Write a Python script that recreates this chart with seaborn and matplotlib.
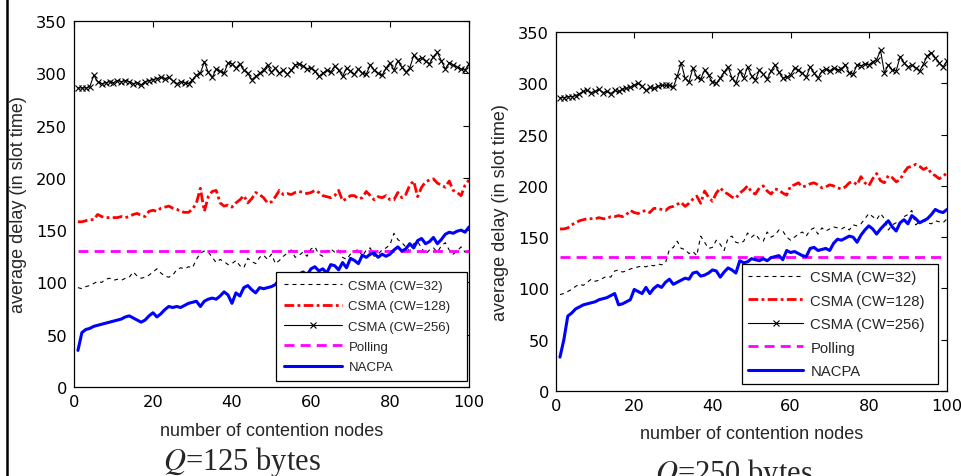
import numpy as np
import matplotlib
matplotlib.use("Agg")
import matplotlib.pyplot as plt
import seaborn as sns

# x axis: number of contention nodes
nodes = list(range(1, 101))

# Q = 125 bytes
q125_cw32 = [95, 94, 96, 97, 99, 101, 100, 103, 104, 102,
             103, 102, 104, 105, 110, 106, 104, 105, 107, 110,
             113, 109, 106, 105, 107, 112, 114, 113, 115, 114,
             122, 128, 130, 129, 124, 119, 122, 120, 117, 118,
             121, 116, 114, 123, 120, 118, 124, 126, 122, 127,
             118, 121, 125, 128, 131, 124, 126, 129, 125, 132,
             134, 127, 125, 130, 132, 129, 131, 124, 122, 127,
             129, 132, 125, 131, 133, 125, 127, 131, 133, 136,
             147, 141, 138, 134, 130, 137, 139, 133, 127, 131,
             133, 129, 135, 138, 131, 127, 130, 134, 129, 128]
q125_cw128 = [158, 158, 159, 160, 160, 165, 163, 162, 162, 162,
              162, 163, 162, 163, 165, 166, 164, 163, 168, 169,
              168, 171, 172, 173, 171, 170, 168, 167, 167, 170,
              176, 190, 168, 182, 187, 188, 176, 173, 174, 172,
              176, 179, 183, 176, 180, 186, 184, 181, 176, 177,
              182, 188, 184, 185, 184, 186, 187, 186, 185, 186,
              188, 186, 183, 182, 181, 183, 188, 178, 180, 183,
              183, 180, 181, 187, 183, 179, 182, 181, 183, 179,
              179, 186, 181, 184, 193, 197, 182, 191, 196, 198,
              199, 195, 193, 191, 197, 188, 186, 183, 193, 198]
q125_cw256 = [286, 286, 286, 287, 298, 292, 290, 291, 292, 291,
              293, 292, 293, 292, 290, 291, 289, 292, 293, 294,
              295, 296, 295, 296, 293, 290, 292, 291, 290, 294,
              298, 300, 311, 301, 296, 304, 302, 300, 310, 309,
              305, 309, 303, 300, 294, 297, 300, 303, 308, 301,
              305, 300, 303, 299, 303, 308, 309, 307, 304, 305,
              302, 297, 300, 303, 301, 307, 303, 297, 305, 302,
              299, 304, 300, 299, 308, 303, 300, 298, 305, 310,
              303, 312, 306, 301, 305, 317, 313, 315, 312, 309,
              316, 320, 312, 304, 310, 308, 306, 304, 303, 309]
q125_polling = 130
q125_nacpa = [35, 52, 55, 56, 58, 59, 60, 61, 62, 63,
              64, 65, 67, 68, 66, 64, 62, 64, 68, 71,
              67, 70, 74, 77, 76, 77, 76, 78, 80, 81,
              82, 77, 82, 84, 85, 84, 87, 91, 88, 80,
              90, 87, 95, 97, 93, 90, 95, 94, 95, 96,
              98, 103, 100, 102, 105, 104, 108, 110, 107, 113,
              115, 111, 113, 109, 117, 116, 112, 119, 114, 123,
              121, 118, 126, 124, 127, 128, 124, 127, 125, 127,
              131, 134, 130, 132, 137, 133, 140, 142, 137, 139,
              143, 137, 141, 146, 148, 147, 149, 150, 148, 153]

# Q = 250 bytes
q250_cw32 = [94, 95, 97, 99, 102, 104, 103, 106, 109, 107,
             108, 110, 112, 111, 117, 118, 116, 117, 119, 120,
             121, 122, 121, 123, 122, 124, 123, 125, 138, 140,
             146, 139, 138, 134, 136, 132, 151, 145, 139, 140,
             147, 143, 137, 149, 151, 145, 144, 146, 154, 150,
             153, 148, 146, 155, 150, 152, 157, 156, 150, 147,
             150, 153, 155, 151, 157, 159, 153, 159, 156, 158,
             160, 159, 158, 160, 157, 162, 161, 163, 168, 173,
             170, 167, 173, 168, 157, 162, 164, 163, 170, 172,
             176, 162, 165, 166, 164, 163, 166, 165, 164, 168]
q250_cw128 = [158, 158, 159, 162, 164, 166, 167, 168, 168, 168,
              169, 168, 168, 170, 170, 171, 170, 172, 176, 174,
              173, 175, 176, 174, 178, 178, 177, 176, 179, 180,
              182, 184, 180, 183, 187, 190, 183, 195, 189, 185,
              193, 198, 194, 192, 189, 188, 193, 196, 200, 194,
              192, 198, 200, 195, 192, 197, 196, 193, 191, 200,
              201, 203, 199, 200, 202, 203, 201, 198, 199, 201,
              200, 198, 197, 199, 203, 204, 201, 209, 203, 200,
              207, 212, 205, 203, 210, 208, 204, 206, 213, 218,
              219, 221, 219, 216, 218, 212, 210, 207, 209, 213]
q250_cw256 = [286, 286, 287, 287, 288, 290, 292, 293, 291, 292,
              294, 291, 292, 290, 293, 292, 294, 295, 296, 298,
              300, 297, 293, 296, 295, 297, 298, 298, 298, 296,
              307, 320, 305, 301, 315, 306, 304, 313, 308, 301,
              300, 305, 311, 316, 305, 300, 312, 305, 316, 307,
              303, 313, 309, 304, 312, 318, 311, 305, 306, 308,
              315, 313, 310, 306, 316, 310, 305, 312, 314, 312,
              315, 313, 314, 318, 310, 309, 318, 317, 319, 318,
              321, 323, 332, 310, 318, 313, 312, 326, 320, 316,
              318, 315, 312, 319, 327, 330, 325, 320, 316, 322]
q250_polling = 131
q250_nacpa = [33, 50, 73, 76, 80, 82, 84, 85, 86, 87,
              89, 90, 91, 93, 95, 84, 85, 87, 89, 99,
              97, 95, 101, 95, 100, 103, 101, 106, 109, 104,
              106, 108, 110, 109, 115, 116, 112, 113, 115, 118,
              117, 111, 116, 120, 118, 115, 127, 125, 126, 129,
              128, 127, 129, 127, 130, 131, 132, 128, 137, 135,
              136, 134, 132, 131, 139, 140, 137, 138, 139, 137,
              144, 148, 147, 149, 151, 150, 145, 152, 157, 161,
              158, 153, 158, 162, 166, 160, 156, 164, 167, 163,
              171, 168, 164, 166, 168, 172, 177, 175, 174, 177]

labels = ["CSMA (CW=32)", "CSMA (CW=128)", "CSMA (CW=256)", "Polling", "NACPA"]

sns.set_style("white")
plt.rcParams["font.family"] = ["Liberation Sans", "DejaVu Sans"]
plt.rcParams["mathtext.fontset"] = "stix"


def draw_panel(ax, cw32, cw128, cw256, polling, nacpa, leg_box, leg_size, handle_len, leg_sp, leg_pad):
    sns.lineplot(x=nodes, y=cw32, ax=ax, color="black", lw=0.8,
                 linestyle=(0, (3.6, 3.6)), label=labels[0])
    sns.lineplot(x=nodes, y=cw128, ax=ax, color="red", lw=2.0,
                 linestyle=(0, (3.5, 1.2, 1.0, 1.2)), label=labels[1])
    sns.lineplot(x=nodes, y=cw256, ax=ax, color="black", lw=0.8,
                 marker="x", markersize=5, markeredgewidth=0.8,
                 markeredgecolor="black", label=labels[2])
    sns.lineplot(x=nodes, y=np.full(len(nodes), polling), ax=ax, color="magenta",
                 lw=2.0, linestyle=(0, (3.6, 2.2)), label=labels[3])
    sns.lineplot(x=nodes, y=nacpa, ax=ax, color="blue", lw=2.2, label=labels[4])

    ax.set_xlim(0, 100)
    ax.set_ylim(0, 350)
    ax.set_xticks(range(0, 101, 20))
    ax.set_yticks(range(0, 351, 50))
    ax.tick_params(direction="in", top=True, right=True, length=4, width=0.8,
                   labelsize=11.7, labelfontfamily="DejaVu Sans", pad=5, colors="black")
    for sp in ax.spines.values():
        sp.set_color("black")
        sp.set_linewidth(0.9)
    ax.set_xlabel("number of contention nodes", fontsize=13)
    ax.set_ylabel("average delay (in slot time)", fontsize=13)
    ax.xaxis.set_label_coords(0.5, -0.095)
    ax.yaxis.set_label_coords(-0.12, 0.5)

    leg = ax.legend(loc="lower left", bbox_to_anchor=leg_box, mode="expand",
                    fontsize=leg_size, handlelength=handle_len, labelspacing=leg_sp,
                    borderpad=leg_pad, handletextpad=0.5, borderaxespad=0,
                    frameon=True, fancybox=False, framealpha=1)
    leg.get_frame().set_edgecolor("black")
    leg.get_frame().set_linewidth(0.9)


fig = plt.figure(figsize=(9.62, 4.77), dpi=100)
ax1 = fig.add_axes([0.0769, 0.1866, 0.4106, 0.7673])
ax2 = fig.add_axes([0.578, 0.1782, 0.4064, 0.7526])

draw_panel(ax1, q125_cw32, q125_cw128, q125_cw256, q125_polling, q125_nacpa,
           (0.511, 0.016, 0.484, 0.298), 9.5, 4.4, 0.61, 0.6)
draw_panel(ax2, q250_cw32, q250_cw128, q250_cw256, q250_polling, q250_nacpa,
           (0.476, 0.0195, 0.501, 0.34), 10.7, 3.7, 0.64, 0.4)

fig.text(0.2516, 0.0155, "$Q$=125 bytes", ha="center", va="baseline",
         fontsize=22, family="Liberation Serif")
# the second caption runs off the bottom edge, as in the source picture
fig.text(0.763, -0.0105, "$Q$=250 bytes", ha="center", va="baseline",
         fontsize=22, family="Liberation Serif")

# black border line down the left edge of the picture
fig.add_artist(plt.Line2D([0.0068, 0.0068], [0, 1], transform=fig.transFigure,
                          color="black", lw=1.8))

fig.savefig("out.png", dpi=100)
